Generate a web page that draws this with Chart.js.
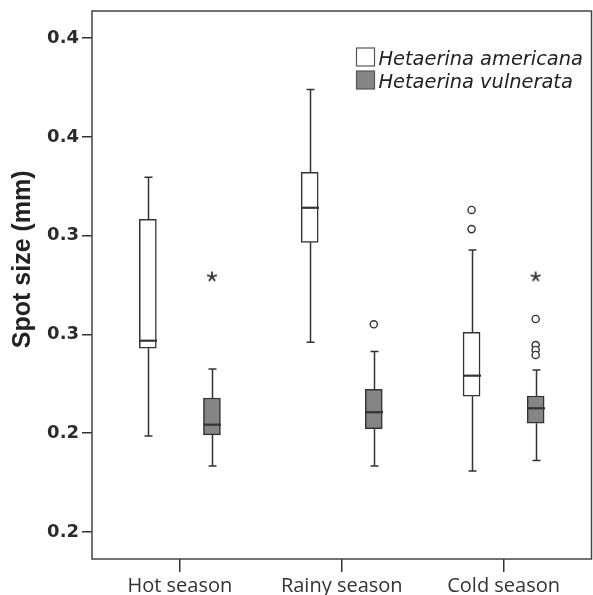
<!DOCTYPE html>
<html>
<head>
<meta charset="utf-8">
<script src="https://cdn.jsdelivr.net/npm/chart.js@4.4.0/dist/chart.umd.min.js"></script>
<style>
  html, body { margin: 0; padding: 0; background: #fff; }
  #wrap { width: 593px; height: 595px; }
  canvas { display: block; }
</style>
</head>
<body>
<div id="wrap"><canvas id="chart" width="593" height="595"></canvas></div>
<script>
// categories and tick labels
var categories = ['Hot season', 'Rainy season', 'Cold season'];
var yTickValues = [0.15, 0.20, 0.25, 0.30, 0.35, 0.40];
var yTickLabels = ['0.2', '0.2', '0.3', '0.3', '0.4', '0.4'];
var yTitle = 'Spot size (mm)';

// Hetaerina americana box stats (mm)
var americanaMin    = [0.1986, 0.2460, 0.1809];
var americanaQ1     = [0.2430, 0.2966, 0.2187];
var americanaMedian = [0.2468, 0.3141, 0.2291];
var americanaQ3     = [0.3082, 0.3320, 0.2511];
var americanaMax    = [0.3295, 0.3740, 0.2927];

// Hetaerina vulnerata box stats (mm)
var vulnerataMin    = [0.1834, 0.1834, 0.1861];
var vulnerataQ1     = [0.1991, 0.2023, 0.2050];
var vulnerataMedian = [0.2043, 0.2106, 0.2126];
var vulnerataQ3     = [0.2178, 0.2222, 0.2188];
var vulnerataMax    = [0.2325, 0.2414, 0.2320];

// outliers: category index + value
var americanaOutlierCat = [2, 2];
var americanaOutlierVal = [0.3130, 0.3033];
var vulnerataOutlierCat = [1, 2, 2, 2, 2];
var vulnerataOutlierVal = [0.2551, 0.2578, 0.2446, 0.2421, 0.2396];
var vulnerataExtremeCat = [0, 2];
var vulnerataExtremeVal = [0.2792, 0.2792];

var seriesNames = ['Hetaerina americana', 'Hetaerina vulnerata'];

var shift = 0.198; // half distance between the two boxes of a season
var lineColor = '#333';
var grayFill = '#858585';

function boxData(q1, q3, side) {
  return q1.map(function(v, i) {
    return { x: i + side * shift, y: [v, q3[i]] };
  });
}
function pointData(cats, vals, side) {
  return cats.map(function(c, i) {
    return { x: c + side * shift, y: vals[i] };
  });
}

// small 5 armed asterisk used for the extreme values
var asterisk = document.createElement('canvas');
asterisk.width = 12;
asterisk.height = 12;
(function() {
  var c = asterisk.getContext('2d');
  c.strokeStyle = lineColor;
  c.lineWidth = 1.8;
  c.lineCap = 'round';
  c.beginPath();
  for (var k = 0; k < 5; k++) {
    var ang = -Math.PI / 2 + k * 2 * Math.PI / 5;
    c.moveTo(6, 6);
    c.lineTo(6 + 4.5 * Math.cos(ang), 6 + 4.5 * Math.sin(ang));
  }
  c.stroke();
})();

var stats = [
  { side: -1, min: americanaMin, med: americanaMedian, max: americanaMax, q1: americanaQ1, q3: americanaQ3 },
  { side: 1, min: vulnerataMin, med: vulnerataMedian, max: vulnerataMax, q1: vulnerataQ1, q3: vulnerataQ3 }
];

var boxPlotPlugin = {
  id: 'boxPlot',
  afterDatasetsDraw: function(chart) {
    var ctx = chart.ctx;
    var xs = chart.scales.x, ys = chart.scales.y;
    ctx.save();
    ctx.strokeStyle = lineColor;
    stats.forEach(function(s) {
      s.min.forEach(function(v, i) {
        var px = Math.round(xs.getPixelForValue(i + s.side * shift)) + 0.5;
        var yMin = ys.getPixelForValue(v);
        var yMax = ys.getPixelForValue(s.max[i]);
        var yQ1 = ys.getPixelForValue(s.q1[i]);
        var yQ3 = ys.getPixelForValue(s.q3[i]);
        var yMed = ys.getPixelForValue(s.med[i]);
        ctx.lineWidth = 1.5;
        ctx.beginPath();
        ctx.moveTo(px, yQ3); ctx.lineTo(px, yMax);
        ctx.moveTo(px, yQ1); ctx.lineTo(px, yMin);
        ctx.moveTo(px - 4, yMax); ctx.lineTo(px + 4, yMax);
        ctx.moveTo(px - 4, yMin); ctx.lineTo(px + 4, yMin);
        ctx.stroke();
        ctx.lineWidth = 2.2;
        ctx.beginPath();
        ctx.moveTo(px - 8.5, yMed); ctx.lineTo(px + 8.5, yMed);
        ctx.stroke();
      });
    });
    ctx.restore();
  },
  afterDraw: function(chart) {
    var ctx = chart.ctx;
    var a = chart.chartArea;
    ctx.save();
    ctx.strokeStyle = '#444';
    ctx.lineWidth = 1.5;
    ctx.strokeRect(a.left, a.top, a.right - a.left, a.bottom - a.top);

    // y axis title, sits a little above the middle of the plot
    ctx.save();
    ctx.translate(23, a.top + 0.453 * (a.bottom - a.top));
    ctx.rotate(-Math.PI / 2);
    ctx.font = 'bold 25px "Liberation Sans"';
    ctx.fillStyle = '#222';
    ctx.textAlign = 'center';
    ctx.textBaseline = 'middle';
    ctx.fillText(yTitle, 0, 0);
    ctx.restore();

    // legend in the upper right of the plot
    var bx = a.right - 235, by = a.top + 37;
    ctx.font = 'italic 19.4px "DejaVu Sans"';
    ctx.textBaseline = 'alphabetic';
    ctx.textAlign = 'left';
    [ '#fff', grayFill ].forEach(function(fill, i) {
      var y = by + i * 23;
      ctx.fillStyle = fill;
      ctx.fillRect(bx, y, 18, 18);
      ctx.strokeStyle = '#555';
      ctx.lineWidth = 1.2;
      ctx.strokeRect(bx, y, 18, 18);
      ctx.fillStyle = '#222';
      ctx.fillText(seriesNames[i], bx + 22, y + 17);
    });
    ctx.restore();
  }
};

new Chart(document.getElementById('chart'), {
  type: 'bar',
  data: {
    datasets: [
      {
        label: seriesNames[0],
        data: boxData(americanaQ1, americanaQ3, -1),
        backgroundColor: '#fff',
        borderColor: lineColor,
        borderWidth: 1.5,
        borderSkipped: false,
        barThickness: 17,
        grouped: false
      },
      {
        label: seriesNames[1],
        data: boxData(vulnerataQ1, vulnerataQ3, 1),
        backgroundColor: grayFill,
        borderColor: lineColor,
        borderWidth: 1.5,
        borderSkipped: false,
        barThickness: 17,
        grouped: false
      },
      {
        type: 'scatter',
        label: 'americana outliers',
        data: pointData(americanaOutlierCat, americanaOutlierVal, -1),
        pointStyle: 'circle',
        pointRadius: 3.6,
        backgroundColor: '#fff',
        borderColor: lineColor,
        borderWidth: 1.4
      },
      {
        type: 'scatter',
        label: 'vulnerata outliers',
        data: pointData(vulnerataOutlierCat, vulnerataOutlierVal, 1),
        pointStyle: 'circle',
        pointRadius: 3.6,
        backgroundColor: '#fff',
        borderColor: lineColor,
        borderWidth: 1.4
      },
      {
        type: 'scatter',
        label: 'vulnerata extremes',
        data: pointData(vulnerataExtremeCat, vulnerataExtremeVal, 1),
        pointStyle: asterisk
      }
    ]
  },
  options: {
    responsive: false,
    animation: false,
    events: [],
    layout: { autoPadding: false, padding: { top: 11, right: 1.5, left: 0, bottom: 0 } },
    plugins: {
      legend: { display: false },
      tooltip: { enabled: false }
    },
    scales: {
      x: {
        type: 'linear',
        offset: false,
        min: -0.543,
        max: 2.543,
        afterBuildTicks: function(scale) {
          scale.ticks = categories.map(function(c, i) { return { value: i }; });
        },
        afterFit: function(scale) {
          scale.height = 36;
          scale.paddingLeft = 0;
          scale.paddingRight = 0;
        },
        ticks: {
          autoSkip: false,
          maxRotation: 0,
          padding: 2,
          color: '#333',
          font: { family: '"Open Sans"', size: 20 },
          callback: function(value, index) { return categories[index]; }
        },
        grid: { offset: false, drawOnChartArea: false, drawTicks: true, tickLength: 13, color: lineColor, lineWidth: 1.5 },
        border: { display: false }
      },
      y: {
        min: 0.1363,
        max: 0.4137,
        afterBuildTicks: function(scale) {
          scale.ticks = yTickValues.map(function(v) { return { value: v }; });
        },
        afterFit: function(scale) {
          scale.width = 92;
          scale.paddingTop = 0;
          scale.paddingBottom = 0;
        },
        ticks: {
          padding: 3,
          color: '#2a2a2a',
          font: { family: '"DejaVu Sans"', size: 18, weight: 'bold' },
          callback: function(value, index) { return yTickLabels[index]; }
        },
        grid: { drawOnChartArea: false, drawTicks: true, tickLength: 10, color: lineColor, lineWidth: 1.5 },
        border: { display: false }
      }
    }
  },
  plugins: [boxPlotPlugin]
});
</script>
</body>
</html>
